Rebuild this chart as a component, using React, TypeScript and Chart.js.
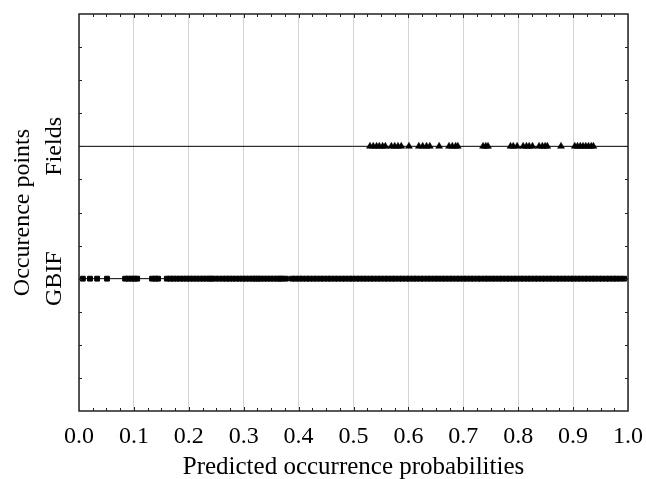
import React, { useEffect, useRef } from "react";
import { Chart, registerables } from "chart.js";

Chart.register(...registerables);

// Category rows on the y axis
const categories = ["GBIF", "Fields"];
const categoryValues = [1, 2];

// Predicted occurrence probabilities of the field occurrence points
const fieldsValues = [
  0.530, 0.536, 0.542, 0.547, 0.553, 0.558, 0.569, 0.575, 0.581, 0.587,
  0.601, 0.619, 0.626, 0.633, 0.639, 0.656, 0.674, 0.680, 0.686, 0.690,
  0.736, 0.741, 0.745, 0.786, 0.791, 0.798, 0.809, 0.815, 0.820, 0.826,
  0.838, 0.844, 0.849, 0.853, 0.878, 0.903, 0.908, 0.913, 0.918, 0.923,
  0.928, 0.933, 0.937,
];

// Predicted occurrence probabilities of the GBIF occurrence points
const gbifValues = [
  0.007, 0.020, 0.033, 0.051,
  0.084, 0.090, 0.096, 0.101, 0.106,
  0.133, 0.139, 0.144,
  0.160, 0.166, 0.172, 0.178, 0.184, 0.190, 0.196, 0.202, 0.208, 0.214,
  0.220, 0.226, 0.232, 0.238, 0.242,
  0.248, 0.255,
  0.262, 0.268, 0.274, 0.280, 0.286, 0.292, 0.298, 0.304, 0.310, 0.316,
  0.321, 0.326,
  0.331, 0.337, 0.343, 0.349, 0.355, 0.361, 0.366, 0.370,
  0.377,
  0.388, 0.394, 0.401, 0.407, 0.414, 0.420, 0.427, 0.433, 0.440, 0.446,
  0.453, 0.459, 0.466, 0.472, 0.479, 0.485, 0.492, 0.498, 0.505, 0.511,
  0.518, 0.524, 0.531, 0.537, 0.544, 0.550, 0.557, 0.563, 0.570, 0.576,
  0.583, 0.589, 0.596, 0.602, 0.609, 0.615, 0.622, 0.628, 0.635, 0.641,
  0.648, 0.654, 0.661, 0.667, 0.674, 0.680, 0.687, 0.693, 0.700, 0.706,
  0.713, 0.719, 0.726, 0.732, 0.739, 0.745, 0.752, 0.758, 0.765, 0.771,
  0.778, 0.784, 0.791, 0.797, 0.804, 0.810, 0.817, 0.823, 0.830, 0.836,
  0.843, 0.849, 0.856, 0.862, 0.869, 0.875, 0.882, 0.888, 0.895, 0.901,
  0.908, 0.914, 0.921, 0.927, 0.934, 0.940, 0.947, 0.953, 0.960, 0.966,
  0.973, 0.979, 0.986, 0.993,
];

const xTickStep = 0.1;
const xMinorStep = 0.025;
const yMinorStep = 0.25;
const xTitle = "Predicted occurrence probabilities";
const yTitle = "Occurence points";

const FONT = "'Liberation Serif', 'Times New Roman', serif";

const framePlugin = {
  id: "frameTicks",
  afterDraw(chart: any) {
    const { ctx, chartArea } = chart;
    const { left, right, top, bottom } = chartArea;
    const xs = chart.scales.x;
    const ys = chart.scales.y;
    ctx.save();
    ctx.strokeStyle = "#222";
    ctx.lineWidth = 1;
    // inward minor ticks
    ctx.beginPath();
    const nx = Math.round(1 / xMinorStep);
    for (let i = 1; i < nx; i++) {
      const px = Math.round(xs.getPixelForValue(i * xMinorStep)) + 0.5;
      const len = i % 4 === 0 ? 4 : 3;
      ctx.moveTo(px, bottom);
      ctx.lineTo(px, bottom - len);
      ctx.moveTo(px, top);
      ctx.lineTo(px, top + len);
    }
    const ny = Math.round(3 / yMinorStep);
    for (let i = 1; i < ny; i++) {
      const py = Math.round(ys.getPixelForValue(i * yMinorStep)) + 0.5;
      ctx.moveTo(left, py);
      ctx.lineTo(left + 3, py);
      ctx.moveTo(right, py);
      ctx.lineTo(right - 3, py);
    }
    ctx.stroke();
    // frame
    ctx.lineWidth = 1.5;
    ctx.strokeStyle = "#222";
    ctx.strokeRect(left, top, right - left, bottom - top);
    // category labels (rotated)
    ctx.fillStyle = "#000";
    ctx.font = `24px ${FONT}`;
    ctx.textAlign = "center";
    ctx.textBaseline = "middle";
    categories.forEach((c, i) => {
      const py = ys.getPixelForValue(categoryValues[i]);
      ctx.save();
      ctx.translate(55, py);
      ctx.rotate(-Math.PI / 2);
      ctx.fillText(c, 0, 0);
      ctx.restore();
    });
    ctx.restore();
  },
};

export default function App() {
  const ref = useRef<HTMLCanvasElement | null>(null);
  useEffect(() => {
    document.body.style.margin = "0";
    const canvas = ref.current;
    if (!canvas) return;
    const lineDatasets = categoryValues.map((v) => ({
      type: "scatter" as const,
      data: [
        { x: 0, y: v },
        { x: 1, y: v },
      ],
      showLine: true,
      borderColor: "#000",
      borderWidth: 1,
      pointRadius: 0,
      order: 3,
    }));
    const chart = new Chart(canvas, {
      type: "scatter",
      data: {
        datasets: [
          ...lineDatasets,
          {
            label: categories[1],
            data: fieldsValues.map((x) => ({ x, y: categoryValues[1] })),
            pointStyle: "triangle",
            pointRadius: 4,
            borderWidth: 0.5,
            backgroundColor: "#000",
            borderColor: "#000",
            order: 1,
          },
          {
            label: categories[0],
            data: gbifValues.map((x) => ({ x, y: categoryValues[0] })),
            pointStyle: "rect",
            pointRadius: 3.4,
            borderWidth: 1,
            backgroundColor: "#000",
            borderColor: "#000",
            order: 1,
          },
        ],
      },
      options: {
        animation: false,
        responsive: false,
        layout: { padding: { top: 14, right: 18, left: 0, bottom: 0 } },
        plugins: {
          legend: { display: false },
          tooltip: { enabled: false },
        },
        scales: {
          x: {
            type: "linear",
            min: 0,
            max: 1,
            ticks: {
              stepSize: xTickStep,
              color: "#000",
              font: { family: FONT, size: 24 },
              padding: 11,
              maxRotation: 0,
              callback: (v: any) => Number(v).toFixed(1),
            },
            grid: {
              color: "#d4d4d4",
              lineWidth: 1,
              drawTicks: false,
            },
            border: { display: false },
            title: {
              display: true,
              text: xTitle,
              color: "#000",
              font: { family: FONT, size: 25 },
              padding: { top: 0, bottom: -3 },
            },
            afterFit: (s: any) => {
              s.height = 68;
              s.paddingLeft = 0;
              s.paddingRight = 0;
            },
          },
          y: {
            type: "linear",
            min: 0,
            max: 3,
            ticks: { display: false },
            grid: { display: false },
            border: { display: false },
            title: {
              display: true,
              text: yTitle,
              color: "#000",
              font: { family: FONT, size: 24 },
              padding: { top: 8, bottom: 0 },
            },
            afterFit: (s: any) => {
              s.width = 79;
              s.paddingTop = 0;
              s.paddingBottom = 0;
            },
          },
        },
      },
      plugins: [framePlugin],
    });
    return () => chart.destroy();
  }, []);
  return (
    <div style={{ width: 646, height: 479 }}>
      <canvas ref={ref} width={646} height={479} style={{ display: "block", width: 646, height: 479 }} />
    </div>
  );
}
